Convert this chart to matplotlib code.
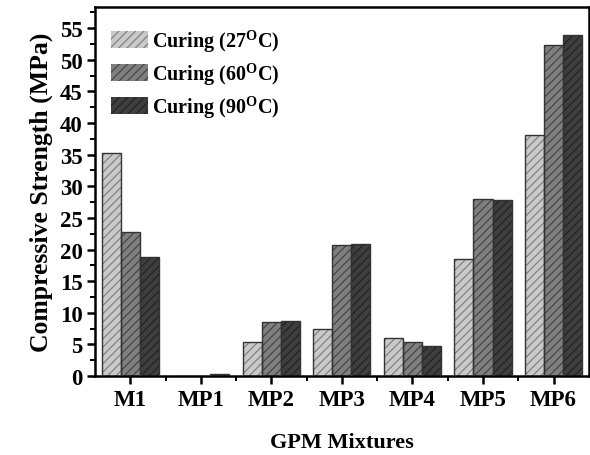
import numpy as np
import matplotlib
matplotlib.use("Agg")
import matplotlib.pyplot as plt
from matplotlib.ticker import MultipleLocator

categories = ["M1", "MP1", "MP2", "MP3", "MP4", "MP5", "MP6"]
curing_27 = [35.2, 0.0, 5.4, 7.5, 6.0, 18.5, 38.1]
curing_60 = [22.8, 0.0, 8.5, 20.7, 5.4, 28.0, 52.4]
curing_90 = [18.9, 0.3, 8.7, 20.8, 4.8, 27.9, 53.9]
series_labels = ["Curing (27$^{\\mathrm{O}}$C)", "Curing (60$^{\\mathrm{O}}$C)", "Curing (90$^{\\mathrm{O}}$C)"]

plt.rcParams["font.family"] = ["Liberation Serif", "DejaVu Serif"]
plt.rcParams["font.weight"] = "bold"
plt.rcParams["mathtext.fontset"] = "custom"
plt.rcParams["mathtext.rm"] = "Liberation Serif:bold"
plt.rcParams["hatch.linewidth"] = 0.8

fig = plt.figure(figsize=(5.9, 4.56), dpi=100)
ax = fig.add_axes([0.161, 0.173, 0.837, 0.809])

x = np.arange(len(categories))
w = 0.27
fills = ["#c9c9c9", "#7f7f7f", "#3e3e3e"]
hatch_colors = ["#7a7a7a", "#404040", "#202020"]
for i, (vals, lab) in enumerate(zip([curing_27, curing_60, curing_90], series_labels)):
    ax.bar(x + (i - 1) * w, vals, width=w, color=fills[i], edgecolor=hatch_colors[i],
           hatch="////", linewidth=0.0, label=lab, zorder=2)
    ax.bar(x + (i - 1) * w, vals, width=w, fill=False, edgecolor="#333333",
           linewidth=1.0, zorder=3)

ax.set_xlim(-0.5, 6.5)
ax.set_ylim(0, 58.3)
ax.set_xticks(x)
ax.set_xticklabels(categories)
ax.set_xticks(x[:-1] + 0.5, minor=True)
ax.yaxis.set_major_locator(MultipleLocator(5))
ax.yaxis.set_minor_locator(MultipleLocator(2.5))

ax.tick_params(axis="both", which="major", direction="out", length=6, width=1.8,
               labelsize=16.5, pad=3)
ax.tick_params(axis="both", which="minor", direction="out", length=3.5, width=1.4)
for lab in ax.get_xticklabels() + ax.get_yticklabels():
    lab.set_fontweight("bold")

for sp in ax.spines.values():
    sp.set_linewidth(1.8)

ax.set_ylabel("Compressive Strength (MPa)", fontsize=18.5, fontweight="bold", labelpad=5)
ax.set_xlabel("GPM Mixtures", fontsize=16, fontweight="bold", labelpad=16)

leg = ax.legend(loc="upper left", frameon=False, fontsize=14.5, handlelength=1.85,
                handleheight=0.9, handletextpad=0.2, labelspacing=0.3,
                bbox_to_anchor=(0.0, 0.99), borderaxespad=0.4)
for t in leg.get_texts():
    t.set_fontweight("bold")

fig.savefig("out.png", dpi=100)
